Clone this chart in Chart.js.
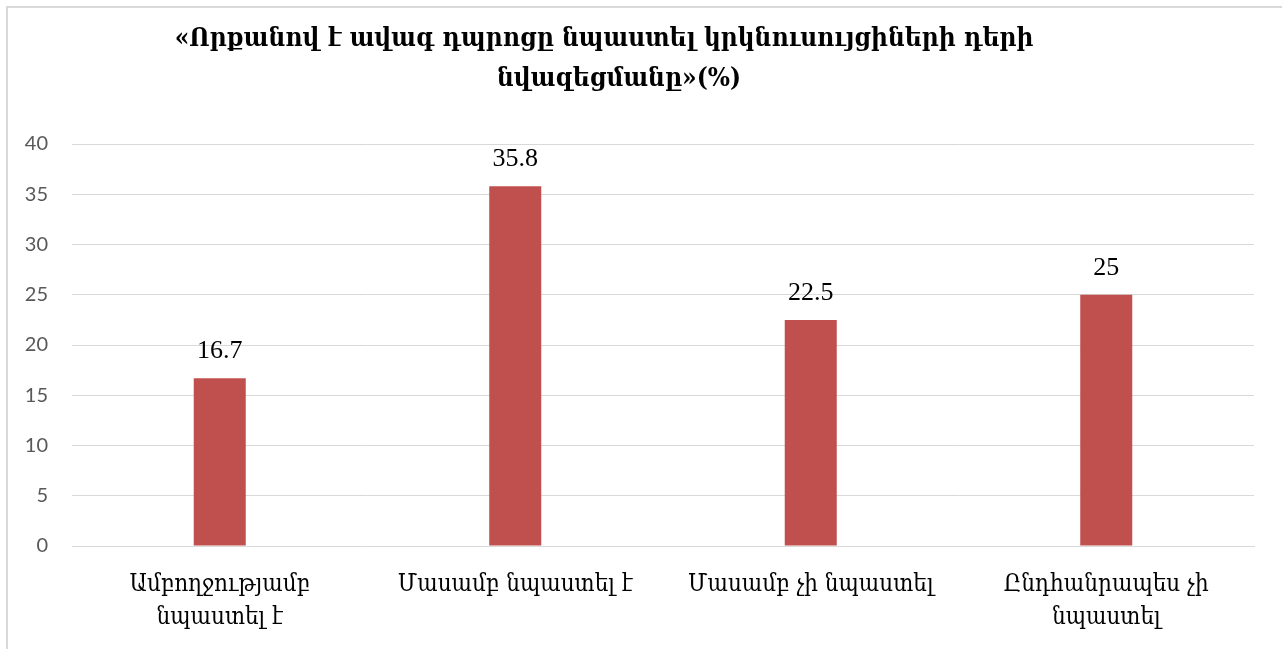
<!DOCTYPE html>
<html><head><meta charset="utf-8">
<script src="https://cdn.jsdelivr.net/npm/chart.js@4.4.1/dist/chart.umd.min.js"></script>
<style>
html,body{margin:0;padding:0;background:#fff;overflow:hidden}
#wrap{position:absolute;left:0;top:0;width:1282px;height:649px}
#frame{position:absolute;left:6px;top:6px;width:1300px;height:700px;border-left:2px solid #d9d9d9;border-top:2px solid #d9d9d9;pointer-events:none}
</style></head>
<body>
<div id="wrap"><canvas id="c" width="1282" height="649"></canvas></div>
<div id="frame"></div>
<script>
const titleLines = ["«Որքանով է ավագ դպրոցը նպաստել կրկնուսույցիների դերի", "նվազեցմանը»(%)"];
const categories = [["Ամբողջությամբ","նպաստել է"], "Մասամբ նպաստել է", "Մասամբ չի նպաստել", ["Ընդհանրապես չի","նպաստել"]];
const values = [16.7, 35.8, 22.5, 25];
const yTicks = [0,5,10,15,20,25,30,35,40];

const armFont = '"DejaVu Serif Condensed", "DejaVu Serif", serif';

const titlePlugin = {
  id: 'customTitle',
  afterDraw(chart) {
    const ctx = chart.ctx;
    ctx.save();
    ctx.fillStyle = '#000';
    ctx.font = 'bold 26px ' + armFont;
    ctx.textAlign = 'center';
    ctx.textBaseline = 'middle';
    ctx.fillText(titleLines[0], 604, 39);
    ctx.fillText(titleLines[1], 619, 79);
    ctx.restore();
  }
};

const labelPlugin = {
  id: 'dataLabels',
  afterDatasetsDraw(chart) {
    const ctx = chart.ctx;
    const meta = chart.getDatasetMeta(0);
    ctx.save();
    ctx.fillStyle = '#000';
    ctx.font = '26px "Liberation Serif", "DejaVu Serif", serif';
    ctx.textAlign = 'center';
    ctx.textBaseline = 'alphabetic';
    meta.data.forEach((el, i) => {
      ctx.fillText(String(values[i]), el.x, el.y - 20);
    });
    ctx.restore();
  }
};

new Chart(document.getElementById('c'), {
  type: 'bar',
  data: {
    labels: categories,
    datasets: [{
      data: values,
      backgroundColor: '#C0504D',
      borderWidth: 0,
      barPercentage: 0.176,
      categoryPercentage: 1.0
    }]
  },
  options: {
    responsive: false,
    animation: false,
    devicePixelRatio: 1,
    layout: { padding: { top: 144, right: 28, bottom: 0, left: 0 } },
    plugins: { legend: { display: false }, title: { display: false }, tooltip: { enabled: false } },
    scales: {
      x: {
        grid: { display: false, drawTicks: false },
        border: { display: true, color: '#d9d9d9', width: 1 },
        ticks: { color: '#000', font: { family: armFont, size: 24, lineHeight: 1.38 }, padding: 22, maxRotation: 0, autoSkip: false },
        afterFit(s) { s.height = 103; }
      },
      y: {
        min: 0, max: 40,
        afterBuildTicks(s) { s.ticks = yTicks.map(v => ({ value: v })); },
        grid: { color: '#d9d9d9', drawTicks: false, lineWidth: 1 },
        border: { display: false },
        ticks: { color: '#595959', font: { family: 'Lato, "Open Sans", sans-serif', size: 20 }, padding: 24 },
        afterFit(s) { s.width = 72; }
      }
    }
  },
  plugins: [titlePlugin, labelPlugin]
});
</script>
</body></html>
